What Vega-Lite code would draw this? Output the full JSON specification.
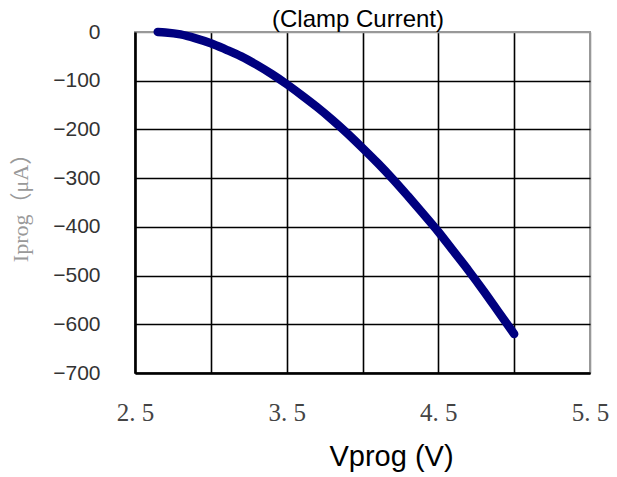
{
  "$schema": "https://vega.github.io/schema/vega-lite/v6.json",
  "width": 455,
  "height": 341,
  "autosize": "none",
  "padding": {"left": 135, "top": 32, "right": 27, "bottom": 104},
  "background": "white",
  "title": {
    "text": "(Clamp Current)",
    "font": "Liberation Sans",
    "fontSize": 24,
    "fontWeight": "normal",
    "color": "black",
    "anchor": "middle",
    "frame": "group",
    "baseline": "alphabetic",
    "offset": 4,
    "dx": -4.5,
    "dy": 34
  },
  "config": {
    "view": {"stroke": "#999999", "strokeWidth": 2},
    "axis": {"domainColor": "black", "domainWidth": 2.5, "gridOpacity": 1, "gridWidth": 1.6, "ticks": false, "tickSize": 0}
  },
  "data": {
    "values": [
      {"V": 2.65, "I": 0},
      {"V": 2.7, "I": -1},
      {"V": 2.8, "I": -5},
      {"V": 2.9, "I": -13},
      {"V": 3.0, "I": -23},
      {"V": 3.1, "I": -36},
      {"V": 3.2, "I": -50},
      {"V": 3.3, "I": -67},
      {"V": 3.4, "I": -86},
      {"V": 3.5, "I": -107},
      {"V": 3.6, "I": -130},
      {"V": 3.7, "I": -154},
      {"V": 3.8, "I": -180},
      {"V": 3.9, "I": -208},
      {"V": 4.0, "I": -238},
      {"V": 4.1, "I": -269},
      {"V": 4.2, "I": -302},
      {"V": 4.3, "I": -337},
      {"V": 4.4, "I": -373},
      {"V": 4.5, "I": -410},
      {"V": 4.6, "I": -450},
      {"V": 4.7, "I": -490},
      {"V": 4.8, "I": -532},
      {"V": 4.9, "I": -576},
      {"V": 5.0, "I": -620}
    ]
  },
  "mark": {"type": "line", "color": "#00007f", "strokeWidth": 8.5, "strokeCap": "round", "strokeJoin": "round", "interpolate": "monotone"},
  "encoding": {
    "x": {
      "field": "V",
      "type": "quantitative",
      "scale": {"domain": [2.5, 5.5], "nice": false, "zero": false},
      "axis": {
        "values": [2.5, 3, 3.5, 4, 4.5, 5, 5.5],
        "labelExpr": "(datum.value * 2) % 2 == 1 ? replace(format(datum.value, '.1f'), '.', '. ') : ''",
        "labelFont": "Liberation Serif",
        "labelFontSize": 25,
        "labelColor": "#444444",
        "labelBaseline": "middle",
        "labelPadding": 39,
        "labelFlush": false,
        "labelOverlap": false,
        "gridColor": {"condition": {"test": "datum.value == 5.5", "value": "#999999"}, "value": "black"},
        "title": "Vprog (V)",
        "titleFont": "Liberation Sans",
        "titleFontSize": 29,
        "titleFontWeight": "normal",
        "titleColor": "black",
        "titleAlign": "center",
        "titleBaseline": "alphabetic",
        "titleX": 256,
        "titleY": 92
      }
    },
    "y": {
      "field": "I",
      "type": "quantitative",
      "scale": {"domain": [-700, 0], "nice": false},
      "axis": {
        "values": [-700, -600, -500, -400, -300, -200, -100, 0],
        "labelFont": "Liberation Sans",
        "labelFontSize": 21,
        "labelColor": "#333333",
        "labelPadding": 35,
        "labelOverlap": false,
        "labelFlush": false,
        "gridColor": {"condition": {"test": "datum.value == 0", "value": "#999999"}, "value": "black"},
        "title": "Iprog（μA）",
        "titleFont": "Liberation Serif, Noto Sans CJK SC",
        "titleFontSize": 22,
        "titleFontWeight": "normal",
        "titleColor": "#999999",
        "titleAngle": -90,
        "titleAlign": "center",
        "titleBaseline": "middle",
        "titleX": -115,
        "titleY": 170
      }
    }
  }
}
